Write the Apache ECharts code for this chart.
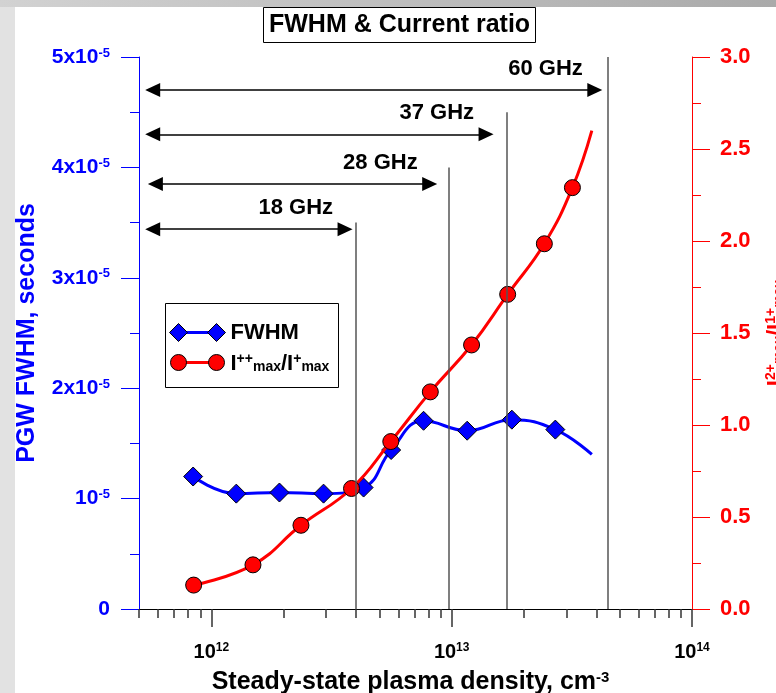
<!DOCTYPE html>
<html>
<head>
<meta charset="utf-8">
<script src="https://cdn.jsdelivr.net/npm/echarts@6/dist/echarts.min.js"></script>
<style>
  html, body { margin: 0; padding: 0; }
  body { width: 776px; height: 693px; position: relative; overflow: hidden; background: #e2e2e2; }
  #topband { position: absolute; left: 0; top: 0; width: 776px; height: 7px; background: linear-gradient(to right, #d2d2d2, #aaaaaa); }
  #sheet { position: absolute; left: 15px; top: 7px; right: 0; bottom: 0; background: #fff; }
  #chart { position: absolute; left: 0; top: 0; width: 776px; height: 693px; }
</style>
</head>
<body>
<div id="topband"></div>
<div id="sheet"></div>
<div id="chart"></div>
<script>
// PGW FWHM (blue diamonds), seconds
const fwhmDensity = [8.4e11, 1.27e12, 1.92e12, 2.93e12, 4.3e12, 5.6e12, 7.64e12, 1.16e13, 1.78e13, 2.7e13];
const fwhmValue = [1.20e-5, 1.045e-5, 1.055e-5, 1.045e-5, 1.10e-5, 1.44e-5, 1.705e-5, 1.615e-5, 1.715e-5, 1.625e-5];
const fwhmCurveEnd = [3.83e13, 1.40e-5];

// current ratio I++max / I+max (red circles)
const ratioDensity = [8.44e11, 1.49e12, 2.36e12, 3.83e12, 5.58e12, 8.15e12, 1.21e13, 1.71e13, 2.43e13, 3.18e13];
const ratioValue = [0.13, 0.24, 0.455, 0.655, 0.91, 1.18, 1.435, 1.71, 1.985, 2.29];
const ratioCurveEnd = [3.83e13, 2.6];

// cut-off densities and arrows
const freqLabels = ['18 GHz', '28 GHz', '37 GHz', '60 GHz'];
const freqDensity = [4.0e12, 9.7e12, 1.7e13, 4.45e13];
const freqLineTop = [3.5e-5, 4.0e-5, 4.5e-5, 5.0e-5];
const arrowLevel = [3.44e-5, 3.85e-5, 4.3e-5, 4.7e-5];
const arrowStart = [5.7e11, 5.85e11, 5.7e11, 5.7e11];
const arrowEnd = [3.6e12, 8.1e12, 1.39e13, 3.94e13];

// tick labels
const xMajor = [1e12, 1e13, 1e14];
const xMajorExp = ['12', '13', '14'];
const xMinor = [];
[5e11, 6e11, 7e11, 8e11, 9e11].forEach(v => xMinor.push(v));
[1e12, 1e13].forEach(d => { for (let k = 2; k <= 9; k++) xMinor.push(k * d); });
const leftTickMant = ['0', '10', '2x10', '3x10', '4x10', '5x10'];
const leftTickExp = ['', '-5', '-5', '-5', '-5', '-5'];
const rightTicks = ['0.0', '0.5', '1.0', '1.5', '2.0', '2.5', '3.0'];

const FONT = "'Liberation Sans', Arial, sans-serif";
const BLUE = '#0000ff';
const RED = '#ff0000';

const richSet = (color, size) => ({
  b: { fontFamily: FONT, fontWeight: 'bold', fontSize: size, color, lineHeight: size, padding: [3, 0, 3, 0] },
  sup: { fontFamily: FONT, fontWeight: 'bold', fontSize: Math.round(size * 0.62), color, lineHeight: 13, verticalAlign: 'top' },
  sub: { fontFamily: FONT, fontWeight: 'bold', fontSize: Math.round(size * 0.62), color, lineHeight: 13, verticalAlign: 'bottom' }
});

const chart = echarts.init(document.getElementById('chart'), null, { renderer: 'canvas' });

const guideLines = [];
freqDensity.forEach((x, i) => {
  guideLines.push([
    { coord: [x, 0], symbol: 'none' },
    { coord: [x, freqLineTop[i]], symbol: 'none' }
  ]);
});
freqLabels.forEach((name, i) => {
  guideLines.push([
    {
      name, coord: [arrowStart[i], arrowLevel[i]], symbol: 'triangle', symbolSize: [14, 15],
      lineStyle: { color: '#000', width: 1.5 },
      label: {
        show: true, position: 'insideEndTop', formatter: '{b}', distance: [12, 10],
        fontFamily: FONT, fontWeight: 'bold', fontSize: 22, color: '#000'
      }
    },
    { coord: [arrowEnd[i], arrowLevel[i]], symbol: 'triangle', symbolSize: [14, 15] }
  ]);
});

const option = {
  animation: false,
  backgroundColor: 'transparent',
  title: {
    text: 'FWHM & Current ratio',
    left: 263, top: 7,
    padding: [5, 6, 5, 6],
    borderColor: '#000', borderWidth: 1, backgroundColor: '#fff',
    textStyle: { fontFamily: FONT, fontWeight: 'bold', fontSize: 25, lineHeight: 26, color: '#000' }
  },
  grid: { left: 139, right: 84, top: 57, bottom: 84, containLabel: false, outerBoundsMode: 'none' },
  xAxis: [{
    type: 'log', logBase: 10, min: 5e11, max: 1e14, position: 'bottom',
    axisLine: { lineStyle: { color: '#000', width: 1 } },
    axisTick: { show: true, customValues: xMajor, length: 18, lineStyle: { color: '#333', width: 1.5 } },
    axisLabel: {
      customValues: xMajor, margin: 33,
      formatter: v => '{b|10}{sup|' + xMajorExp[xMajor.indexOf(v)] + '}',
      rich: richSet('#000', 20)
    },
    splitLine: { show: false },
    name: 'Steady-state plasma density, cm{sup|-3}',
    nameLocation: 'middle', nameGap: 60,
    nameTextStyle: { fontFamily: FONT, fontWeight: 'bold', fontSize: 25, color: '#000', padding: [0, 10, 0, 0], rich: richSet('#000', 24) }
  }, {
    type: 'log', logBase: 10, min: 5e11, max: 1e14, position: 'bottom', offset: 0,
    axisLine: { show: false },
    axisTick: { show: true, customValues: xMinor, length: 9, lineStyle: { color: '#333', width: 1.5 } },
    axisLabel: { show: false },
    splitLine: { show: false }
  }],
  yAxis: [{
    type: 'value', min: 0, max: 5e-5, interval: 1e-5, position: 'left',
    axisLine: { show: true, lineStyle: { color: BLUE, width: 1 } },
    axisTick: { show: true, length: 18, lineStyle: { color: BLUE } },
    minorTick: { show: true, splitNumber: 2, length: 9, lineStyle: { color: BLUE } },
    axisLabel: {
      margin: 29,
      formatter: v => {
        const i = Math.round(v / 1e-5);
        return leftTickExp[i] ? '{b|' + leftTickMant[i] + '}{sup|' + leftTickExp[i] + '}' : '{b|' + leftTickMant[i] + '}';
      },
      rich: richSet(BLUE, 21)
    },
    splitLine: { show: false },
    name: 'PGW FWHM, seconds', nameLocation: 'middle', nameRotate: 90, nameGap: 99,
    nameTextStyle: { fontFamily: FONT, fontWeight: 'bold', fontSize: 25, color: BLUE }
  }, {
    type: 'value', min: 0, max: 3, interval: 0.5, position: 'right',
    axisLine: { show: true, lineStyle: { color: RED, width: 1 } },
    axisTick: { show: true, length: 18, lineStyle: { color: RED } },
    minorTick: { show: true, splitNumber: 2, length: 9, lineStyle: { color: RED } },
    axisLabel: {
      margin: 28,
      formatter: v => rightTicks[Math.round(v / 0.5)],
      fontFamily: FONT, fontWeight: 'bold', fontSize: 22, color: RED
    },
    splitLine: { show: false },
    name: '{b|I}{sup|2+}{sub|max}{b|/I}{sup|1+}{sub|max}',
    nameLocation: 'middle', nameRotate: 90, nameGap: 68,
    nameTextStyle: { rich: richSet(RED, 22) }
  }],
  series: [{
    name: 'guides', type: 'line', xAxisIndex: 0, yAxisIndex: 0, data: [], z: 1,
    markLine: {
      silent: true, animation: false,
      lineStyle: { color: '#555', width: 1.5, type: 'solid' },
      itemStyle: { color: '#000' },
      label: { show: false },
      data: guideLines
    }
  }, {
    name: 'FWHM', type: 'line', xAxisIndex: 0, yAxisIndex: 0, z: 3,
    smooth: 0.45,
    symbol: 'diamond', symbolSize: 19,
    itemStyle: { color: BLUE, borderColor: '#000', borderWidth: 1 },
    lineStyle: { color: BLUE, width: 3 },
    data: fwhmDensity.map((x, i) => [x, fwhmValue[i]]).concat([{ value: fwhmCurveEnd, symbol: 'none' }])
  }, {
    name: 'ratio', type: 'line', xAxisIndex: 0, yAxisIndex: 1, z: 4,
    smooth: 0.45,
    symbol: 'circle', symbolSize: 16,
    itemStyle: { color: RED, borderColor: '#000', borderWidth: 1 },
    lineStyle: { color: RED, width: 3 },
    data: ratioDensity.map((x, i) => [x, ratioValue[i]]).concat([{ value: ratioCurveEnd, symbol: 'none' }])
  }],
  graphic: [{
    type: 'group', left: 165, top: 303, z: 10,
    children: [
      { type: 'rect', shape: { x: 0, y: 0, width: 173, height: 84 }, style: { fill: '#fff', stroke: '#000', lineWidth: 1 } },
      { type: 'line', shape: { x1: 13, y1: 29, x2: 51, y2: 29 }, style: { stroke: BLUE, lineWidth: 3 } },
      { type: 'polygon', shape: { points: [[13, 20], [22, 29], [13, 38], [4, 29]] }, style: { fill: BLUE, stroke: '#000', lineWidth: 1 } },
      { type: 'polygon', shape: { points: [[51, 20], [60, 29], [51, 38], [42, 29]] }, style: { fill: BLUE, stroke: '#000', lineWidth: 1 } },
      { type: 'line', shape: { x1: 13, y1: 59, x2: 51, y2: 59 }, style: { stroke: RED, lineWidth: 3 } },
      { type: 'circle', shape: { cx: 13, cy: 59, r: 8 }, style: { fill: RED, stroke: '#000', lineWidth: 1 } },
      { type: 'circle', shape: { cx: 51, cy: 59, r: 8 }, style: { fill: RED, stroke: '#000', lineWidth: 1 } },
      { type: 'text', x: 65, y: 29, style: { text: 'FWHM', fontFamily: FONT, fontWeight: 'bold', fontSize: 22, fill: '#000', verticalAlign: 'middle' } },
      { type: 'text', x: 65, y: 60, style: {
        text: '{b|I}{sup|++}{sub|max}{b|/I}{sup|+}{sub|max}', verticalAlign: 'middle',
        rich: richSet('#000', 22)
      } }
    ]
  }]
};

chart.setOption(option);
</script>
</body>
</html>
